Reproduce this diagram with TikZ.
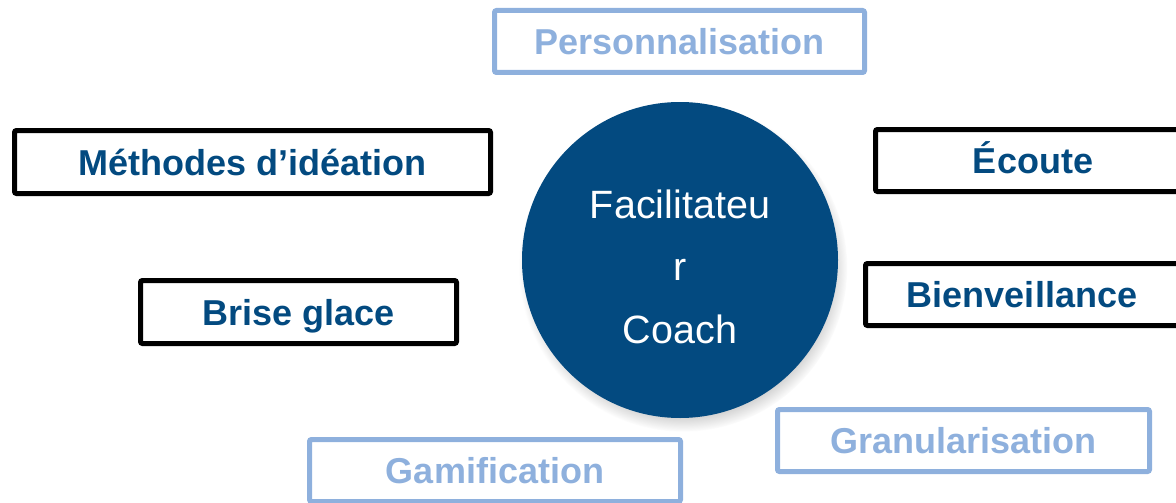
\documentclass[tikz,border=0pt]{standalone}
\usepackage{fontspec}
\setmainfont{Liberation Sans}
\usetikzlibrary{shadows}
\definecolor{deepblue}{HTML}{034A80}
\definecolor{paleblue}{HTML}{8EB0DD}
\tikzset{
  skill/.style={draw=black, line width=5pt, rounded corners=2pt, inner sep=0pt,
    text=deepblue, font=\fontsize{36}{40}\selectfont\bfseries,
    text height=30pt, text depth=4pt},
  extra/.style={skill, draw=paleblue, text=paleblue},
}
\begin{document}
\begin{tikzpicture}[x=1pt,y=-1pt]
\useasboundingbox (0,0) rectangle (1176,503);
\clip (0,0) rectangle (1176,503);
% centre
\node[circle, fill=deepblue, minimum size=316pt, inner sep=0pt,
  circular drop shadow={shadow xshift=3pt, shadow yshift=-7pt, shadow scale=1.04, opacity=0.55}] (coach) at (680,260) {};
\node[text=white, align=center, anchor=base, font=\fontsize{39.5}{62.5}\selectfont] (role) at (680,343) {Facilitateu\\r\\Coach};
% skills
\node[skill, minimum width=476pt, minimum height=63pt] (ideation) at (252.5,162) {Méthodes d’idéation};
\node[skill, minimum width=316pt, minimum height=63pt] (brise) at (298.5,312) {Brise glace};
\node[skill, minimum width=315pt, minimum height=62pt] (ecoute) at (1033,160.5) {Écoute};
\node[skill, minimum width=313pt, minimum height=62pt] (bienv) at (1022,294.5) {Bienveillance};
% extras
\node[extra, minimum width=370pt, minimum height=62pt] (perso) at (679.5,41.5) {Personnalisation};
\node[extra, minimum width=372pt, minimum height=62pt] (granul) at (963.5,440.5) {Granularisation};
\node[extra, minimum width=371pt, minimum height=62pt] (gamif) at (495,470.5) {Gamification};
\end{tikzpicture}
\end{document}
